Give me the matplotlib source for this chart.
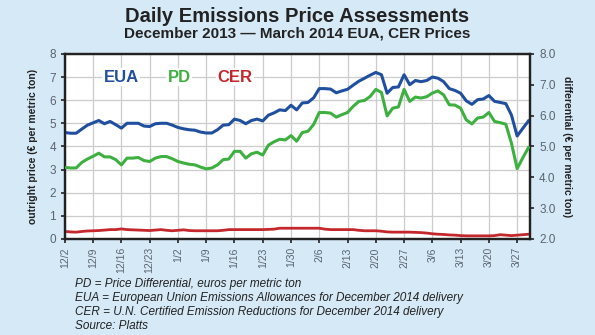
import numpy as np
import matplotlib.pyplot as plt

# trading-day axis, weekly labels every 5 sessions
tick_labels = ["12/2", "12/9", "12/16", "12/23", "1/2", "1/9", "1/16", "1/23", "1/30",
               "2/6", "2/13", "2/20", "2/27", "3/6", "3/13", "3/20", "3/27"]

# EUA outright price (left axis)
eua = [4.60, 4.57, 4.57, 4.75, 4.92, 5.02, 5.12, 4.98, 5.08, 4.94,
       4.79, 5.00, 5.00, 5.00, 4.88, 4.86, 4.98, 5.00, 5.00, 4.92,
       4.82, 4.76, 4.72, 4.70, 4.62, 4.58, 4.58, 4.72, 4.92, 4.94,
       5.18, 5.12, 4.98, 5.12, 5.18, 5.10, 5.35, 5.45, 5.58, 5.55,
       5.78, 5.58, 5.88, 5.90, 6.10, 6.50, 6.50, 6.48, 6.32, 6.40,
       6.47, 6.65, 6.82, 6.95, 7.08, 7.20, 7.10, 6.30, 6.55, 6.57,
       7.10, 6.67, 6.85, 6.80, 6.85, 7.00, 6.95, 6.80, 6.50, 6.42,
       6.30, 5.97, 5.82, 6.02, 6.05, 6.20, 5.95, 5.90, 5.85, 5.35,
       4.45, 4.78, 5.10]

# price differential (right axis)
pd_diff = [4.32, 4.30, 4.30, 4.48, 4.59, 4.68, 4.78, 4.66, 4.66, 4.57,
           4.40, 4.62, 4.62, 4.64, 4.54, 4.51, 4.62, 4.67, 4.67, 4.60,
           4.51, 4.46, 4.42, 4.40, 4.33, 4.27, 4.30, 4.40, 4.57, 4.59,
           4.84, 4.84, 4.62, 4.76, 4.81, 4.72, 5.04, 5.15, 5.23, 5.21,
           5.35, 5.17, 5.45, 5.49, 5.71, 6.10, 6.10, 6.08, 5.95, 6.03,
           6.10, 6.30, 6.46, 6.49, 6.62, 6.85, 6.75, 5.99, 6.24, 6.28,
           6.85, 6.46, 6.60, 6.57, 6.61, 6.73, 6.80, 6.67, 6.35, 6.34,
           6.24, 5.86, 5.73, 5.92, 5.95, 6.10, 5.81, 5.77, 5.72, 5.10,
           4.28, 4.63, 4.96]

# CER outright price (left axis)
cer = [0.32, 0.30, 0.29, 0.32, 0.34, 0.35, 0.36, 0.38, 0.40, 0.40,
       0.43, 0.40, 0.39, 0.38, 0.37, 0.36, 0.38, 0.40, 0.37, 0.35,
       0.37, 0.39, 0.36, 0.35, 0.35, 0.35, 0.35, 0.35, 0.37, 0.40,
       0.40, 0.40, 0.40, 0.40, 0.40, 0.40, 0.41, 0.42, 0.46, 0.46,
       0.46, 0.46, 0.46, 0.46, 0.46, 0.46, 0.42, 0.40, 0.40, 0.40,
       0.40, 0.40, 0.37, 0.35, 0.35, 0.35, 0.33, 0.30, 0.29, 0.29,
       0.29, 0.29, 0.28, 0.27, 0.25, 0.22, 0.20, 0.19, 0.17, 0.16,
       0.14, 0.13, 0.13, 0.13, 0.13, 0.13, 0.14, 0.18, 0.16, 0.14,
       0.16, 0.18, 0.20]

footnotes = ["PD = Price Differential, euros per metric ton",
             "EUA = European Union Emissions Allowances for December 2014 delivery",
             "CER = U.N. Certified Emission Reductions for December 2014 delivery",
             "Source: Platts"]

bg = "#d6e9f6"
blue = "#1f4f9e"
green = "#3db040"
red = "#c4282c"
grey = "#5a6470"
plt.rcParams['font.family'] = ['Liberation Sans', 'DejaVu Sans']

x = np.arange(len(eua))

fig = plt.figure(figsize=(5.95, 3.35), dpi=100, facecolor=bg)
ax = fig.add_axes([0.109, 0.287, 0.782, 0.552])
ax.set_facecolor("white")
ax2 = ax.twinx()

ax.plot(x, eua, color=blue, lw=2.2, zorder=3)
ax.plot(x, cer, color=red, lw=2.0, zorder=3)
ax2.plot(x, pd_diff, color=green, lw=2.2, zorder=3)

ax.set_xlim(0, 82.3)
ax.set_ylim(0, 8)
ax2.set_ylim(2, 8)
ax.set_yticks(range(0, 9))
ax2.set_yticks(np.arange(2, 8.1, 1.0))
ax2.set_yticklabels(["%.1f" % v for v in np.arange(2, 8.1, 1.0)])
ax.set_xticks(np.arange(0, 5 * len(tick_labels), 5))
ax.set_xticklabels(tick_labels, rotation=90)

ax.grid(True, color="#cccccc", lw=0.9)
ax.set_axisbelow(True)

for a in (ax, ax2):
    for s in a.spines.values():
        s.set_color("#222222")
        s.set_linewidth(1.6)
    a.tick_params(colors="#222222", labelcolor=grey, length=3, width=1.2, labelsize=8.5)
ax.tick_params(axis="x", labelsize=7.5, pad=3)

ax.set_ylabel("outright price (€ per metric ton)", fontsize=7.5, fontweight="bold",
              color="#222222", labelpad=8)
ax2.set_ylabel("differential (€ per metric ton)", fontsize=7.5, fontweight="bold",
               color="#222222", rotation=270, labelpad=12)

box = dict(facecolor="white", edgecolor="none", pad=1)
ax.text(10, 7.0, "EUA", color=blue, fontsize=12, fontweight="bold", ha="center",
        va="center", bbox=box, zorder=4)
ax.text(20.2, 7.0, "PD", color=green, fontsize=12, fontweight="bold", ha="center",
        va="center", bbox=box, zorder=4)
ax.text(30.1, 7.0, "CER", color=red, fontsize=12, fontweight="bold", ha="center",
        va="center", bbox=box, zorder=4)

fig.text(0.5, 0.952, "Daily Emissions Price Assessments", ha="center", va="center",
         fontsize=14.5, fontweight="bold", color="#222222")
fig.text(0.5, 0.901, "December 2013 \u2014 March 2014 EUA, CER Prices", ha="center",
         va="center", fontsize=11, fontweight="bold", color="#222222")

for i, line in enumerate(footnotes):
    fig.text(0.126, 0.152 - i * 0.042, line, ha="left", va="center", fontsize=8.5,
             style="italic", color="#222222")

fig.savefig("out.png", dpi=100, facecolor=bg)
